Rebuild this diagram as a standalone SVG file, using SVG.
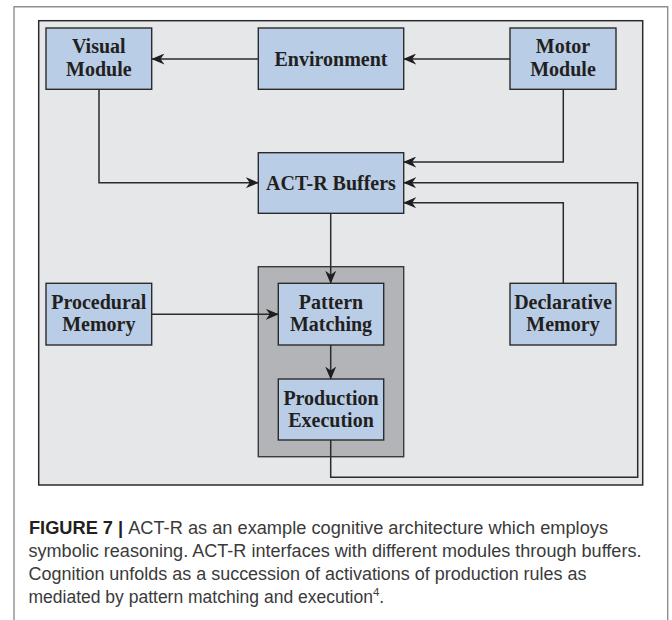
<svg xmlns="http://www.w3.org/2000/svg" width="672" height="620" viewBox="0 0 672 620">
<defs>
<style>
.box{fill:#b9cde6;stroke:#2b2b2b;stroke-width:1.4}
.lbl{font-family:"Liberation Serif","Times New Roman",serif;font-weight:bold;font-size:20px;fill:#231f20;text-anchor:middle}
.con{fill:none;stroke:#2b2b2b;stroke-width:1.5}
.cap{font-family:"Liberation Sans",Arial,sans-serif;font-size:17.5px;fill:#3a3a3a}
</style>
<marker id="ah" viewBox="0 0 13 11" refX="12.5" refY="5.5" markerWidth="13" markerHeight="11" markerUnits="userSpaceOnUse" orient="auto">
<path d="M0,0 L13,5.5 L0,11 L4,5.5 Z" fill="#1e1e1e"/>
</marker>
</defs>
<rect width="672" height="620" fill="#ffffff"/>
<path d="M14,620 V6.7 H667.7 V620" fill="none" stroke="#8f8f8f" stroke-width="1.4"/>
<rect id="panel" x="38.7" y="20.7" width="604" height="464.3" fill="#e6e7e9" stroke="#2b2b2b" stroke-width="1.5"/>
<rect id="production-system" x="258.3" y="266.7" width="145.4" height="190" fill="#b3b4b7" stroke="#3a3a3a" stroke-width="1.4"/>

<g id="connectors">
<path class="con" d="M258.3,59 H152" marker-end="url(#ah)"/>
<path class="con" d="M510,59 H403.7" marker-end="url(#ah)"/>
<path class="con" d="M99,89.3 V182.7 H258.3" marker-end="url(#ah)"/>
<path class="con" d="M563.3,89.3 V162 H403.7" marker-end="url(#ah)"/>
<path class="con" d="M330.7,440 V477.3 H637.7 V182.7 H403.7" marker-end="url(#ah)"/>
<path class="con" d="M563.3,283.3 V202.7 H403.7" marker-end="url(#ah)"/>
<path class="con" d="M330.7,213.3 V283.3" marker-end="url(#ah)"/>
<path class="con" d="M152,314.3 H278.3" marker-end="url(#ah)"/>
<path class="con" d="M330.7,345 V379" marker-end="url(#ah)"/>
</g>

<g id="visual-module">
<rect class="box" x="46" y="28" width="105.7" height="61.3"/>
<text class="lbl" x="98.8" y="53">Visual</text>
<text class="lbl" x="98.8" y="75.5">Module</text>
</g>
<g id="environment">
<rect class="box" x="258.3" y="28" width="145.4" height="61.3"/>
<text class="lbl" x="331" y="65.5">Environment</text>
</g>
<g id="motor-module">
<rect class="box" x="510" y="28" width="106" height="61.3"/>
<text class="lbl" x="563" y="53">Motor</text>
<text class="lbl" x="563" y="75.5">Module</text>
</g>
<g id="act-r-buffers">
<rect class="box" x="258.3" y="152.7" width="145.4" height="60.6"/>
<text class="lbl" x="331" y="189.5">ACT-R Buffers</text>
</g>
<g id="procedural-memory">
<rect class="box" x="46" y="283.3" width="105.7" height="61.7"/>
<text class="lbl" x="98.8" y="309">Procedural</text>
<text class="lbl" x="98.8" y="331">Memory</text>
</g>
<g id="pattern-matching">
<rect class="box" x="278.3" y="283.3" width="105.4" height="61.7"/>
<text class="lbl" x="331" y="309">Pattern</text>
<text class="lbl" x="331" y="331">Matching</text>
</g>
<g id="production-execution">
<rect class="box" x="278.3" y="379" width="105.4" height="61"/>
<text class="lbl" x="331" y="405">Production</text>
<text class="lbl" x="331" y="427">Execution</text>
</g>
<g id="declarative-memory">
<rect class="box" x="510" y="283.3" width="106" height="61.7"/>
<text class="lbl" x="563" y="309">Declarative</text>
<text class="lbl" x="563" y="331">Memory</text>
</g>

<g id="caption">
<text class="cap" x="29" y="534" textLength="579" lengthAdjust="spacingAndGlyphs"><tspan font-weight="bold" fill="#231f20">FIGURE 7 | </tspan>ACT-R as an example cognitive architecture which employs</text>
<text class="cap" x="28.5" y="557" textLength="613" lengthAdjust="spacingAndGlyphs">symbolic reasoning. ACT-R interfaces with different modules through buffers.</text>
<text class="cap" x="28.5" y="580" textLength="558" lengthAdjust="spacingAndGlyphs">Cognition unfolds as a succession of activations of production rules as</text>
<text class="cap" x="28.5" y="603">mediated by pattern matching and execution<tspan font-size="11.5" dy="-7">4</tspan><tspan dy="7">.</tspan></text>
</g>
</svg>
